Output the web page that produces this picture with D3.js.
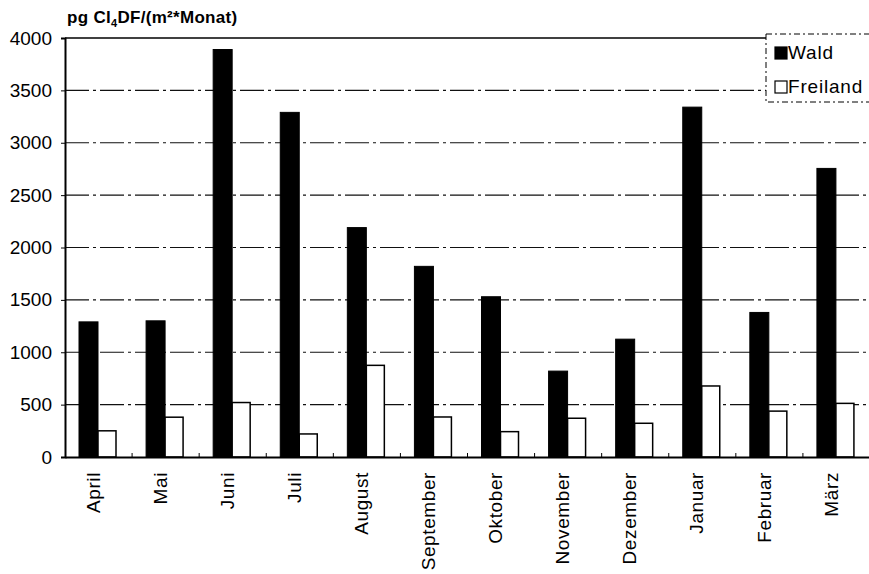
<!DOCTYPE html>
<html>
<head>
<meta charset="utf-8">
<script src="https://cdn.jsdelivr.net/npm/d3@7"></script>
<style>
  body { margin: 0; background: #fff; }
  svg { display: block; font-family: "Liberation Sans", Arial, sans-serif; }
</style>
</head>
<body>
<div id="chart"></div>
<script>
// ── Data ─────────────────────────────────────
const MONTHS   = ["April","Mai","Juni","Juli","August","September","Oktober","November","Dezember","Januar","Februar","März"];
const WALD     = [1290, 1300, 3890, 3290, 2190, 1820, 1530, 820, 1125, 3340, 1380, 2755];
const FREILAND = [250, 380, 520, 220, 875, 382, 242, 370, 322, 678, 438, 512];
const Y_TICKS  = [0, 500, 1000, 1500, 2000, 2500, 3000, 3500, 4000];
const SERIES   = ["Wald", "Freiland"];

const W = 869, H = 574;
const margin = { top: 38, right: -1, bottom: 117, left: 65 };
const width  = W - margin.left - margin.right;
const height = H - margin.top - margin.bottom;
const FONT = "'Liberation Sans', Arial, sans-serif";

const svg = d3.select("#chart").append("svg").attr("width", W).attr("height", H);
const g = svg.append("g").attr("transform", `translate(${margin.left},${margin.top})`);

// ── Scales ──────────────────────────────────
const x = d3.scaleBand().domain(MONTHS).range([0, width]).paddingInner(0).paddingOuter(0);
const xs = d3.scaleBand().domain(SERIES).range([14, 52]).padding(0);
const y = d3.scaleLinear().domain([0, 4000]).range([height, 0]);

// ── Grid lines (dash-dot) ───────────────────
g.append("g").selectAll("line")
  .data(Y_TICKS.filter(t => t > 0 && t < 4000))
  .join("line")
    .attr("x1", 0).attr("x2", width)
    .attr("y1", d => y(d)).attr("y2", d => y(d))
    .attr("stroke", "#111").attr("stroke-width", 1.2)
    .attr("stroke-dasharray", "24,4,3,4");

// ── Bars ────────────────────────────────────
const rows = MONTHS.map((m, i) => ({ m, Wald: WALD[i], Freiland: FREILAND[i] }));
const grp = g.selectAll(".grp").data(rows).join("g")
  .attr("transform", d => `translate(${x(d.m)},0)`);

grp.append("rect")
  .attr("x", xs("Wald")).attr("width", xs.bandwidth())
  .attr("y", d => y(d.Wald)).attr("height", d => height - y(d.Wald))
  .attr("fill", "#000").attr("stroke", "#000").attr("stroke-width", 1);

grp.append("rect")
  .attr("x", xs("Freiland")).attr("width", xs.bandwidth() - 1)
  .attr("y", d => y(d.Freiland)).attr("height", d => height - y(d.Freiland))
  .attr("fill", "#fff").attr("stroke", "#000").attr("stroke-width", 1.5);

// small inner ticks at category boundaries
g.append("g").selectAll("line")
  .data(MONTHS.slice(1))
  .join("line")
    .attr("x1", d => x(d)).attr("x2", d => x(d))
    .attr("y1", height).attr("y2", height - 4)
    .attr("stroke", "#000").attr("stroke-width", 1);

// ── Frame ───────────────────────────────────
g.append("line").attr("x1", 0).attr("x2", width).attr("y1", 0).attr("y2", 0)
  .attr("stroke", "#000").attr("stroke-width", 1.5);

// ── Y axis ──────────────────────────────────
const yAxis = g.append("g").call(d3.axisLeft(y).tickValues(Y_TICKS)
  .tickFormat(d3.format("d")).tickSize(4).tickPadding(9));
yAxis.select(".domain").attr("stroke", "#000").attr("stroke-width", 2);
yAxis.selectAll(".tick line").attr("stroke", "#000");
yAxis.selectAll("text").style("font-size", "19px").attr("fill", "#000")
  .style("font-family", FONT);

// ── X axis ──────────────────────────────────
const xAxis = g.append("g").attr("transform", `translate(0,${height})`)
  .call(d3.axisBottom(x).tickSize(0).tickPadding(0));
xAxis.select(".domain").attr("stroke", "#000").attr("stroke-width", 2);
xAxis.selectAll("text")
  .style("font-size", "19px").style("letter-spacing", "0.6px").attr("fill", "#000")
  .style("font-family", FONT)
  .attr("transform", "translate(-5.5,15) rotate(-90)")
  .attr("text-anchor", "end").attr("dy", "0.35em").attr("y", 0);

// ── Title ───────────────────────────────────
const title = svg.append("text").attr("x", 67).attr("y", 23)
  .style("font-size", "17px").style("letter-spacing", "0.3px")
  .attr("font-weight", "bold").attr("fill", "#000");
title.append("tspan").text("pg Cl");
title.append("tspan").style("font-size", "11px").attr("dy", 4).text("4");
title.append("tspan").attr("dy", -4).text("DF/(m²*Monat)");

// ── Legend ──────────────────────────────────
const legend = svg.append("g").attr("transform", "translate(766,34)");
legend.append("rect").attr("width", 110).attr("height", 68)
  .attr("fill", "#fff").attr("stroke", "#000").attr("stroke-width", 1)
  .attr("stroke-dasharray", "6,3,2,3");
SERIES.forEach((s, i) => {
  const ly = 13 + i * 34;
  legend.append("rect").attr("x", 9).attr("y", ly).attr("width", 12).attr("height", 12)
    .attr("fill", s === "Wald" ? "#000" : "#fff").attr("stroke", "#000").attr("stroke-width", 1.2);
  legend.append("text").attr("x", 22).attr("y", ly + 12)
    .style("font-size", "19px").style("letter-spacing", "0.8px").attr("fill", "#000").text(s);
});
</script>
</body>
</html>
